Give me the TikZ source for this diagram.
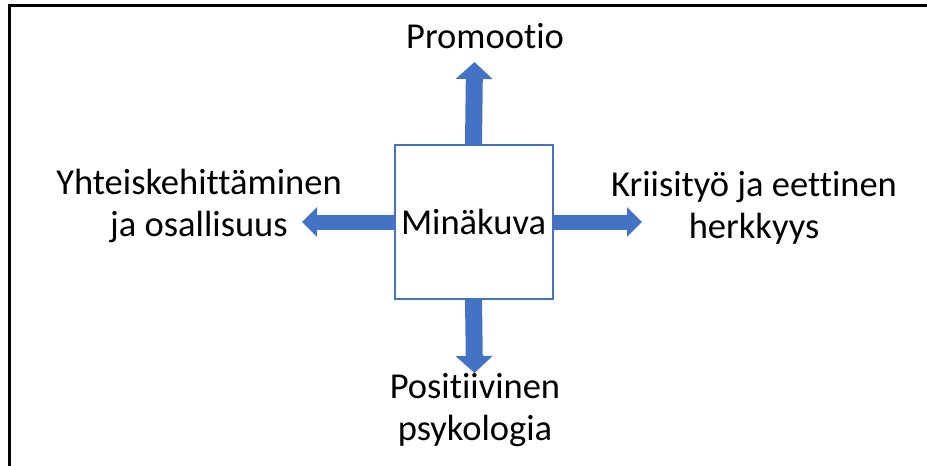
\documentclass[tikz,border=0pt]{standalone}
\usepackage{fontspec}
\setmainfont[Ligatures={NoCommon}]{Carlito}
\usetikzlibrary{arrows.meta}
\definecolor{accentblue}{HTML}{4472C4}
\tikzset{
  lbl/.style={font=\fontsize{36.5}{42}\selectfont, align=center, inner sep=0pt, anchor=base},
  vblock/.style={draw=accentblue, line width=17pt, -{Triangle[width=36pt,length=17pt]}},
  hblock/.style={draw=accentblue, line width=15pt, -{Triangle[width=29pt,length=15pt]}},
  centerbox/.style={draw=accentblue, line width=2pt, fill=white, minimum width=158pt, minimum height=154pt, inner sep=0pt, font=\fontsize{36.5}{42}\selectfont}
}
\begin{document}
\begin{tikzpicture}[x=1pt,y=-1pt]
\useasboundingbox (0,0) rectangle (927,466);
\draw[line width=3pt] (9,466) -- (9,5) -- (927,5);
\node[centerbox] (box) at (473.5,222) {};
\coordinate (tipN) at (474.5,62);
\coordinate (tipS) at (474.5,373);
\coordinate (tipW) at (302,222);
\coordinate (tipE) at (642,222);
\draw[vblock] (box.north) -- (tipN);
\draw[vblock] (box.south) -- (tipS);
\draw[hblock] (box.west) -- (tipW);
\draw[hblock] (box.east) -- (tipE);
\node[centerbox] (box2) at (473.5,222) {Minäkuva};
\node[lbl] (promo) at (485,48) {Promootio};
\node[lbl] (yht) at (199,236) {Yhteiskehittäminen\\ja osallisuus};
\node[lbl] (krii) at (754,238) {Kriisityö ja eettinen\\herkkyys};
\node[lbl] (pos) at (475,440) {Positiivinen\\psykologia};
\end{tikzpicture}
\end{document}
